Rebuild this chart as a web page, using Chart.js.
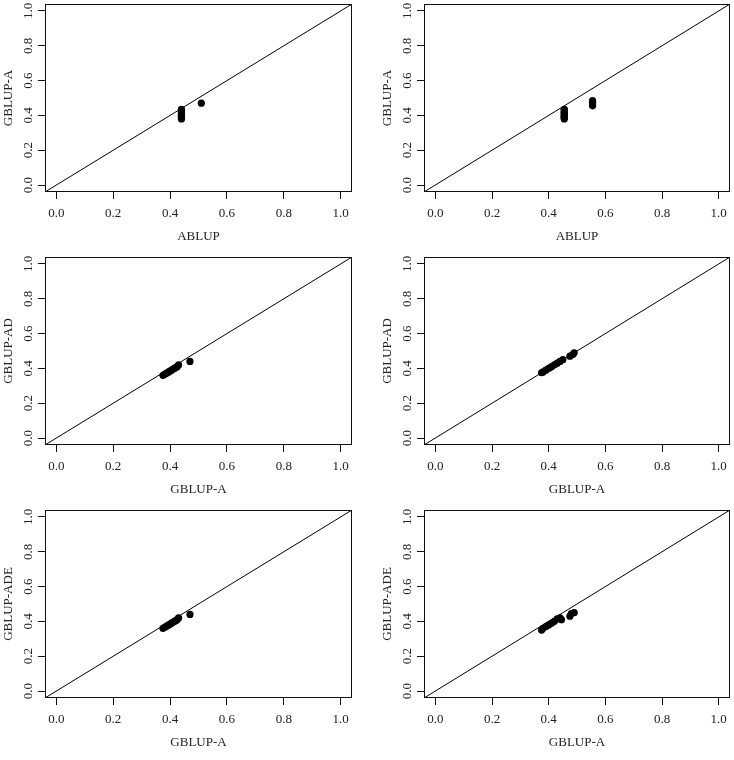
<!DOCTYPE html>
<html>
<head>
<title>Genomic prediction comparison</title>
<script src="https://cdn.jsdelivr.net/npm/chart.js"></script>
<style>
  body { margin: 0; background: #fff; }
  .panel { position: absolute; }
</style>
</head>
<body>
<div class="panel" style="left:0;top:0"><canvas id="c1" width="367" height="253"></canvas></div>
<div class="panel" style="left:379px;top:0"><canvas id="c2" width="355" height="253"></canvas></div>
<div class="panel" style="left:0;top:253px"><canvas id="c3" width="367" height="253"></canvas></div>
<div class="panel" style="left:379px;top:253px"><canvas id="c4" width="355" height="253"></canvas></div>
<div class="panel" style="left:0;top:506px"><canvas id="c5" width="367" height="253"></canvas></div>
<div class="panel" style="left:379px;top:506px"><canvas id="c6" width="355" height="253"></canvas></div>

<script>
// tick positions shared by every axis
const tickVals = [0.0, 0.2, 0.4, 0.6, 0.8, 1.0];
// y = x reference line, spans the padded axis range
const diagVals = [-0.04, 1.04];

// panel 1: ABLUP vs GBLUP-A
const p1x = [0.44, 0.44, 0.44, 0.44, 0.44, 0.44, 0.44, 0.44, 0.44, 0.44, 0.44, 0.44, 0.51];
const p1y = [0.38, 0.385, 0.39, 0.395, 0.40, 0.405, 0.41, 0.415, 0.42, 0.425, 0.43, 0.435, 0.47];
// panel 2: ABLUP vs GBLUP-A
const p2x = [0.455, 0.455, 0.455, 0.455, 0.455, 0.455, 0.455, 0.455, 0.455, 0.455, 0.555, 0.555, 0.555, 0.555];
const p2y = [0.38, 0.385, 0.39, 0.395, 0.40, 0.41, 0.415, 0.42, 0.43, 0.435, 0.455, 0.465, 0.475, 0.485];
// panel 3: GBLUP-A vs GBLUP-AD
const p3x = [0.375, 0.38, 0.385, 0.39, 0.395, 0.40, 0.405, 0.41, 0.415, 0.42, 0.425, 0.43, 0.47];
const p3y = [0.36, 0.365, 0.37, 0.375, 0.38, 0.385, 0.39, 0.395, 0.40, 0.405, 0.41, 0.42, 0.44];
// panel 4: GBLUP-A vs GBLUP-AD
const p4x = [0.375, 0.38, 0.39, 0.40, 0.41, 0.42, 0.43, 0.44, 0.45, 0.475, 0.485, 0.49];
const p4y = [0.375, 0.38, 0.39, 0.40, 0.41, 0.42, 0.43, 0.44, 0.45, 0.47, 0.48, 0.49];
// panel 5: GBLUP-A vs GBLUP-ADE
const p5x = [0.375, 0.38, 0.385, 0.39, 0.395, 0.40, 0.405, 0.41, 0.415, 0.42, 0.425, 0.43, 0.47];
const p5y = [0.36, 0.365, 0.37, 0.375, 0.38, 0.385, 0.39, 0.395, 0.40, 0.405, 0.41, 0.42, 0.44];
// panel 6: GBLUP-A vs GBLUP-ADE
const p6x = [0.375, 0.38, 0.39, 0.40, 0.41, 0.42, 0.43, 0.44, 0.445, 0.475, 0.48, 0.49];
const p6y = [0.35, 0.36, 0.37, 0.38, 0.39, 0.40, 0.415, 0.42, 0.41, 0.43, 0.445, 0.45];

const xLabels = ['ABLUP', 'ABLUP', 'GBLUP-A', 'GBLUP-A', 'GBLUP-A', 'GBLUP-A'];
const yLabels = ['GBLUP-A', 'GBLUP-A', 'GBLUP-AD', 'GBLUP-AD', 'GBLUP-ADE', 'GBLUP-ADE'];

const allX = [p1x, p2x, p3x, p4x, p5x, p6x];
const allY = [p1y, p2y, p3y, p4y, p5y, p6y];

const font = { family: '"Liberation Serif", "Times New Roman", serif', size: 13 };

// R-style full box around the plot region
const boxPlugin = {
    id: 'box',
    afterDraw(chart) {
        const a = chart.chartArea;
        const c = chart.ctx;
        c.save();
        c.strokeStyle = '#111';
        c.lineWidth = 1;
        c.strokeRect(a.left + 0.5, a.top + 0.5, a.right - a.left - 1, a.bottom - a.top - 1);
        c.restore();
    }
};

function axis(title, horizontal) {
    return {
        type: 'linear',
        min: diagVals[0],
        max: diagVals[1],
        afterBuildTicks: s => { s.ticks = tickVals.map(v => ({ value: v })); },
        afterFit: s => {
            // fixed margins, no extra room for overhanging labels
            if (horizontal) { s.height = 61; s.paddingLeft = 0; s.paddingRight = 0; }
            else { s.width = 45; s.paddingTop = 0; s.paddingBottom = 0; }
        },
        border: { display: false },
        grid: { drawOnChartArea: false, drawTicks: true, tickLength: 7, color: '#111' },
        ticks: {
            callback: v => v.toFixed(1),
            font: font,
            color: '#222',
            autoSkip: false,
            padding: horizontal ? 7 : 1,
            minRotation: horizontal ? 0 : 90,
            maxRotation: horizontal ? 0 : 90,
            crossAlign: horizontal ? 'near' : 'center'
        },
        title: {
            display: true,
            text: title,
            font: font,
            color: '#222',
            padding: horizontal ? { top: 0, bottom: 9 } : { top: 1, bottom: 0 }
        }
    };
}

allX.forEach((xs, i) => {
    const ctx = document.getElementById('c' + (i + 1)).getContext('2d');
    const right = (i % 2 === 0) ? 15 : 3;
    new Chart(ctx, {
        type: 'scatter',
        data: {
            datasets: [
                {
                    data: xs.map((x, k) => ({ x: x, y: allY[i][k] })),
                    backgroundColor: '#000',
                    borderWidth: 0,
                    pointRadius: 3.6
                },
                {
                    type: 'line',
                    data: diagVals.map(v => ({ x: v, y: v })),
                    borderColor: '#000',
                    borderWidth: 1,
                    pointRadius: 0,
                    fill: false
                }
            ]
        },
        options: {
            responsive: false,
            animation: false,
            layout: { padding: { top: 1, right: right, left: 0, bottom: 0 } },
            plugins: { legend: { display: false }, tooltip: { enabled: false } },
            scales: {
                x: axis(xLabels[i], true),
                y: axis(yLabels[i], false)
            }
        },
        plugins: [boxPlugin]
    });
});
</script>
</body>
</html>
